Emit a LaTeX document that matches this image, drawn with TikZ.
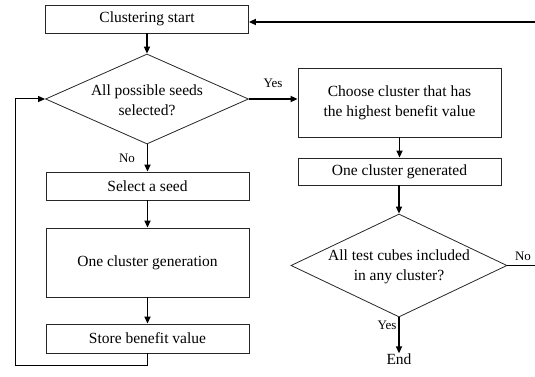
\documentclass[tikz,border=0pt]{standalone}
\usepackage{fontspec}
\setmainfont{Liberation Serif}
\usetikzlibrary{shapes.geometric,arrows.meta}
\begin{document}
\begin{tikzpicture}[x=1pt,y=-1pt,
  txt/.style={font=\fontsize{15.5}{20}\selectfont, align=center},
  lbl/.style={font=\fontsize{13}{15}\selectfont, inner sep=1pt},
  box/.style={draw=black!85, line width=0.8pt, rectangle, minimum width=203pt, txt, inner sep=0pt},
  dia/.style={draw=black!85, line width=0.8pt, diamond, inner sep=0pt},
  arr/.style={line width=1.6pt, -{Triangle[length=7pt,width=6pt]}},
  thinarr/.style={line width=1pt, -{Triangle[length=7pt,width=6pt]}},
  thin/.style={line width=1pt}]
\useasboundingbox (0,0) rectangle (535,377);
% left column
\node[box, minimum height=28pt] (start) at (147,19) {Clustering start};
\node[dia, minimum width=203pt, minimum height=90pt] (d1) at (147,99) {};
\node[txt] (d1t) at (147,100) {All possible seeds\\selected?};
\node[box, minimum height=28pt] (sel) at (147.5,186) {Select a seed};
\node[box, minimum height=69pt] (gen) at (147.5,262.5) {One cluster generation};
\node[box, minimum height=29pt] (store) at (147.5,338.5) {Store benefit value};
% right column
\node[box, minimum height=69pt] (choose) at (399.5,102.5) {Choose cluster that has\\the highest benefit value};
\node[box, minimum height=27pt] (gend) at (399.5,171.5) {One cluster generated};
\node[dia, minimum width=216pt, minimum height=103pt] (d2) at (399,265.5) {};
\node[txt] (d2t) at (399,267) {All test cubes included\\in any cluster?};
\node[txt, inner sep=0pt] (end) at (399,359) {End};
% labels
\node[lbl] (yes1) at (273,83) {Yes};
\node[lbl] (no1) at (127,158) {No};
\node[lbl] (no2) at (523,256) {No};
\node[lbl] (yes2) at (387,325) {Yes};
% coordinates
\coordinate (topin) at (535,22);
\coordinate (noout) at (535,265.5);
\coordinate (lp1) at (147.5,365);
\coordinate (lp2) at (15,365);
\coordinate (lp3) at (15,99);
% connectors
\draw[arr] (topin) -- (topin -| start.east);
\draw[arr] (start.south) -- (d1.north);
\draw[arr] (d1.east) -- (d1.east -| choose.west);
\draw[arr] (d1.south -| sel.north) -- (sel.north);
\draw[arr] (sel.south) -- (gen.north);
\draw[arr] (gen.south) -- (store.north);
\draw[thinarr] (store.south) -- (lp1) -- (lp2) -- (lp3) -- (d1.west);
\draw[arr] (choose.south) -- (gend.north);
\draw[arr] (gend.south -| d2.north) -- (d2.north);
\draw[thin] (d2.east) -- (noout);
\draw[arr] (d2.south) -- (end.north);
\end{tikzpicture}
\end{document}
